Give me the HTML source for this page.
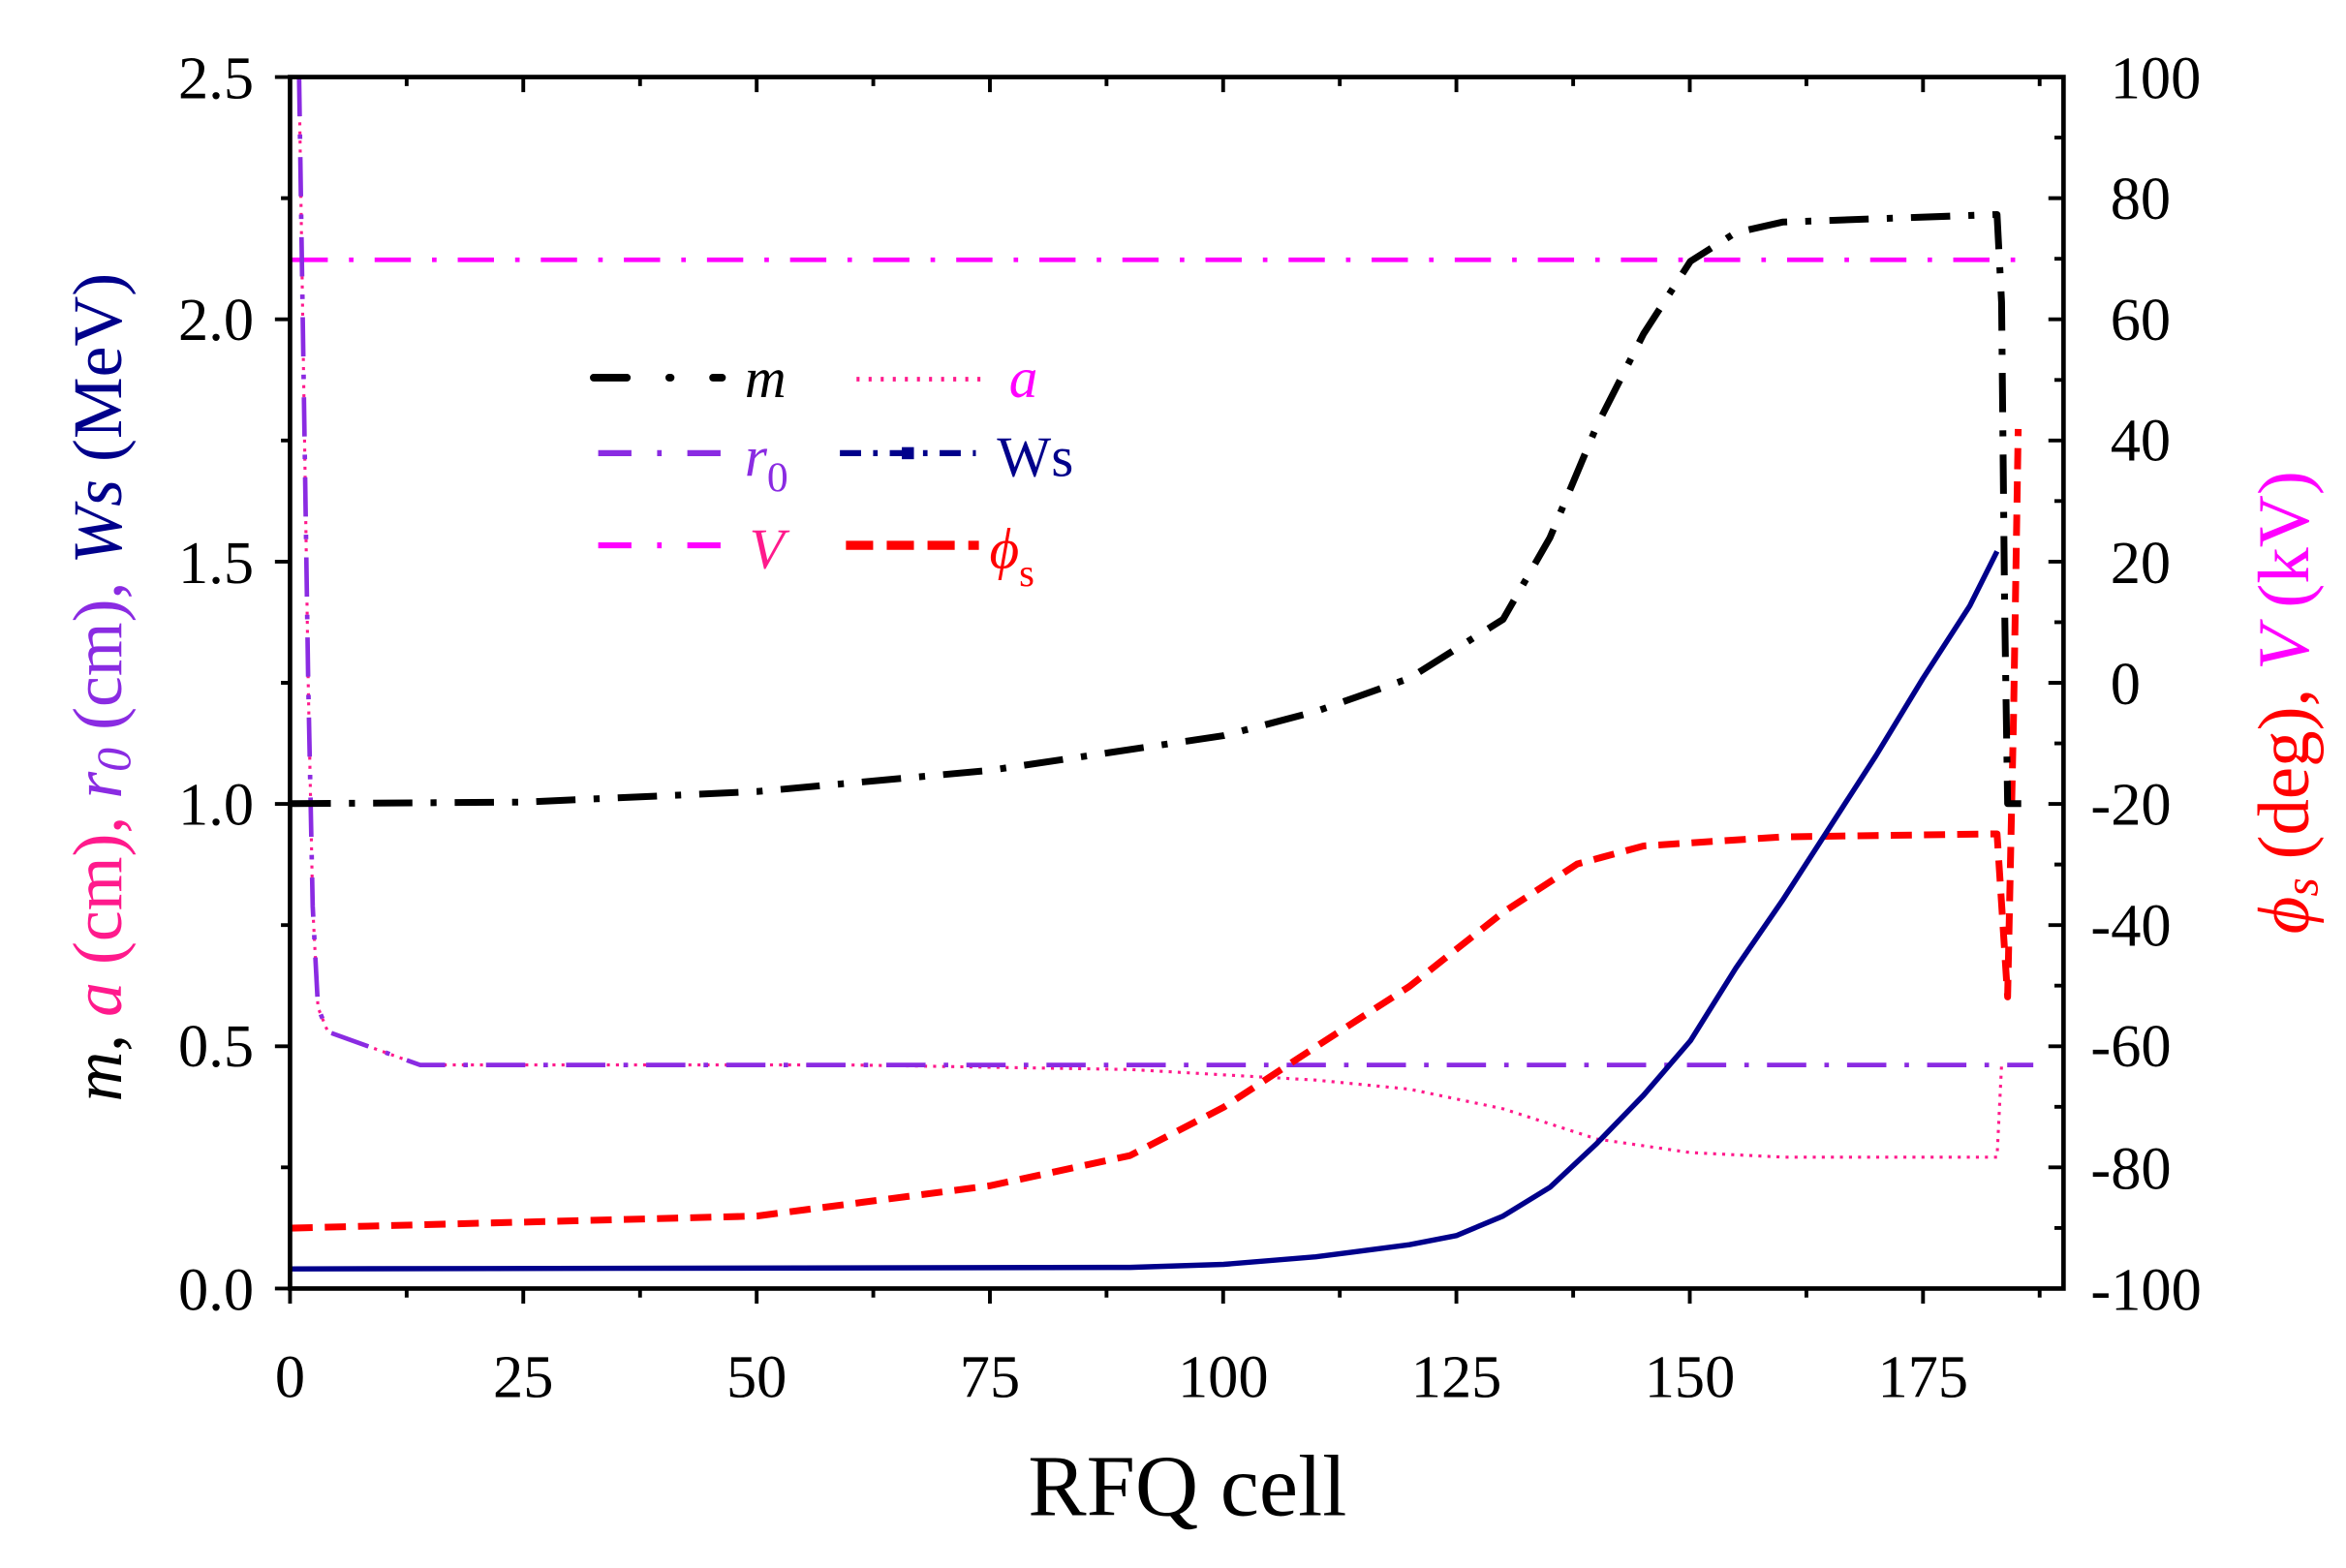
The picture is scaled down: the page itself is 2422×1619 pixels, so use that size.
<!DOCTYPE html>
<html><head><meta charset="utf-8"><style>html,body{margin:0;padding:0;background:#fff}svg{display:block}</style></head><body>
<svg width="2422" height="1619" viewBox="0 0 1553 1038" preserveAspectRatio="none" xmlns="http://www.w3.org/2000/svg" font-family="Liberation Serif, serif">
<rect width="1553" height="1038" fill="#fff"/>
<g fill="none" stroke-linejoin="round">
<!-- V -->
<line x1="193" y1="172" x2="1347" y2="172" stroke="#ff00ff" stroke-width="3" stroke-dasharray="24,14,3,14"/>
<!-- a -->
<polyline points="198,51 201,250 204,450 207,600 210.5,667 217,683 278,705 563,705 748,708 871,715 933,721 995,734 1057,754 1119,763 1180,766 1322,766 1325,705" stroke="#ff1a8c" stroke-width="2" stroke-dasharray="2,4"/>
<!-- r0 -->
<polyline points="198,51 201,250 204,450 207,600 210.5,667 217,683 278,705 1346,705" stroke="#8a2be2" stroke-width="3" stroke-dasharray="26,12,3,12"/>
<!-- phi_s -->
<polyline points="193,813 501,805 655,785 748,765 810,733 871,693 933,653 995,604 1044,572 1088,560 1180,554 1322,552 1329,660 1333,470 1336,284" stroke="#ff0000" stroke-width="4.5" stroke-dasharray="14,8"/>
<!-- Ws -->
<polyline points="193,840 748,839 810,837 871,832 933,824 964,818 995,805 1026,786 1057,757 1088,725 1119,689 1149,641 1180,596 1211,548 1242,500 1273,449 1304,401 1322,365" stroke="#00008b" stroke-width="3.5"/>
<!-- m -->
<polyline points="193,532 346,531 501,524 655,510 810,487 871,471 933,449 995,410 1026,356 1057,282 1088,221 1119,173 1149,154 1180,147 1322,142 1325,200 1327,400 1329,532 1338,532" stroke="#000" stroke-width="4.5" stroke-dasharray="26,12,4,12"/>
</g>
<rect x="192" y="51" width="1174" height="802" fill="none" stroke="#000" stroke-width="3"/>
<g stroke="#000" stroke-width="2.5">
<path d="M192,853v10M346.4,853v10M500.9,853v10M655.3,853v10M809.7,853v10M964.1,853v10M1118.6,853v10M1273,853v10
M269.2,853v6M423.7,853v6M578.1,853v6M732.5,853v6M886.9,853v6M1041.4,853v6M1195.8,853v6M1350.2,853v6
M346.4,51v10M500.9,51v10M655.3,51v10M809.7,51v10M964.1,51v10M1118.6,51v10M1273,51v10
M269.2,51v6M423.7,51v6M578.1,51v6M732.5,51v6M886.9,51v6M1041.4,51v6M1195.8,51v6M1350.2,51v6
M192,853h-10M192,692.6h-10M192,532.2h-10M192,371.8h-10M192,211.4h-10M192,51h-10
M192,772.8h-6M192,612.4h-6M192,452h-6M192,291.6h-6M192,131.2h-6
M1366,772.8h-10M1366,692.6h-10M1366,612.4h-10M1366,532.2h-10M1366,452h-10M1366,371.8h-10M1366,291.6h-10M1366,211.4h-10M1366,131.2h-10
M1366,812.9h-6M1366,732.7h-6M1366,652.5h-6M1366,572.3h-6M1366,492.1h-6M1366,411.9h-6M1366,331.7h-6M1366,251.5h-6M1366,171.3h-6M1366,91.1h-6"/>
</g>
<g font-size="40" fill="#000">
<g text-anchor="middle">
<text x="192" y="925">0</text><text x="346.4" y="925">25</text><text x="500.9" y="925">50</text><text x="655.3" y="925">75</text><text x="809.7" y="925">100</text><text x="964.1" y="925">125</text><text x="1118.6" y="925">150</text><text x="1273" y="925">175</text>
</g>
<g text-anchor="end">
<text x="168" y="867">0.0</text><text x="168" y="706">0.5</text><text x="168" y="546">1.0</text><text x="168" y="386">1.5</text><text x="168" y="225">2.0</text><text x="168" y="65">2.5</text>
</g>
<g text-anchor="start">
<text x="1384" y="867">-100</text><text x="1384" y="787">-80</text><text x="1384" y="706">-60</text><text x="1384" y="626">-40</text><text x="1384" y="546">-20</text><text x="1397" y="466">0</text><text x="1397" y="386">20</text><text x="1397" y="305">40</text><text x="1397" y="225">60</text><text x="1397" y="145">80</text><text x="1397" y="65">100</text>
</g>
</g>
<text x="786" y="1003" font-size="58" text-anchor="middle">RFQ cell</text>
<text transform="translate(80,455) rotate(-90)" font-size="46" text-anchor="middle"><tspan font-style="italic" fill="#000">m</tspan><tspan fill="#000">, </tspan><tspan font-style="italic" fill="#ff1a8c">a</tspan><tspan fill="#ff1a8c"> (cm), </tspan><tspan font-style="italic" fill="#8a2be2">r<tspan font-size="32" dy="6">0</tspan></tspan><tspan fill="#8a2be2" dy="-6"> (cm), </tspan><tspan font-style="italic" fill="#00008b">Ws</tspan><tspan fill="#00008b"> (MeV)</tspan></text>
<text transform="translate(1528,465) rotate(-90)" font-size="48" text-anchor="middle"><tspan font-style="italic" fill="#ff0000">ϕ<tspan font-size="32" dy="6">s</tspan></tspan><tspan fill="#ff0000" dy="-6"> (deg), </tspan><tspan font-style="italic" fill="#ff00ff">V</tspan><tspan fill="#ff00ff"> (kV)</tspan></text>
<g fill="none">
<line x1="393" y1="250" x2="478" y2="250" stroke="#000" stroke-width="5" stroke-linecap="round" stroke-dasharray="22,28,1,28"/>
<line x1="567" y1="251" x2="652" y2="251" stroke="#ff1a8c" stroke-width="3" stroke-dasharray="2,6"/>
<line x1="396" y1="300" x2="478" y2="300" stroke="#8a2be2" stroke-width="4" stroke-dasharray="22,17,3,17"/>
<line x1="556" y1="300" x2="646" y2="300" stroke="#00008b" stroke-width="4" stroke-dasharray="14,8,3,8"/>
<rect x="597" y="296" width="8" height="8" fill="#00008b"/>
<line x1="396" y1="361" x2="478" y2="361" stroke="#ff00ff" stroke-width="4" stroke-dasharray="22,17,3,17"/>
<line x1="560" y1="361" x2="648" y2="361" stroke="#ff0000" stroke-width="6" stroke-dasharray="18,9"/>
</g>
<g font-size="38">
<text x="493" y="263" font-style="italic" fill="#000">m</text>
<text x="668" y="263" font-style="italic" fill="#ff00ff">a</text>
<text x="493" y="315" font-style="italic" fill="#8a2be2">r<tspan font-size="28" font-style="normal" dy="10">0</tspan></text>
<text x="660" y="315" fill="#00008b">Ws</text>
<text x="496" y="376" font-style="italic" fill="#ff1a8c">V</text>
<text x="655" y="376" font-style="italic" fill="#ff0000">ϕ<tspan font-size="26" font-style="normal" dy="12">s</tspan></text>
</g>
</svg>
</body></html>
